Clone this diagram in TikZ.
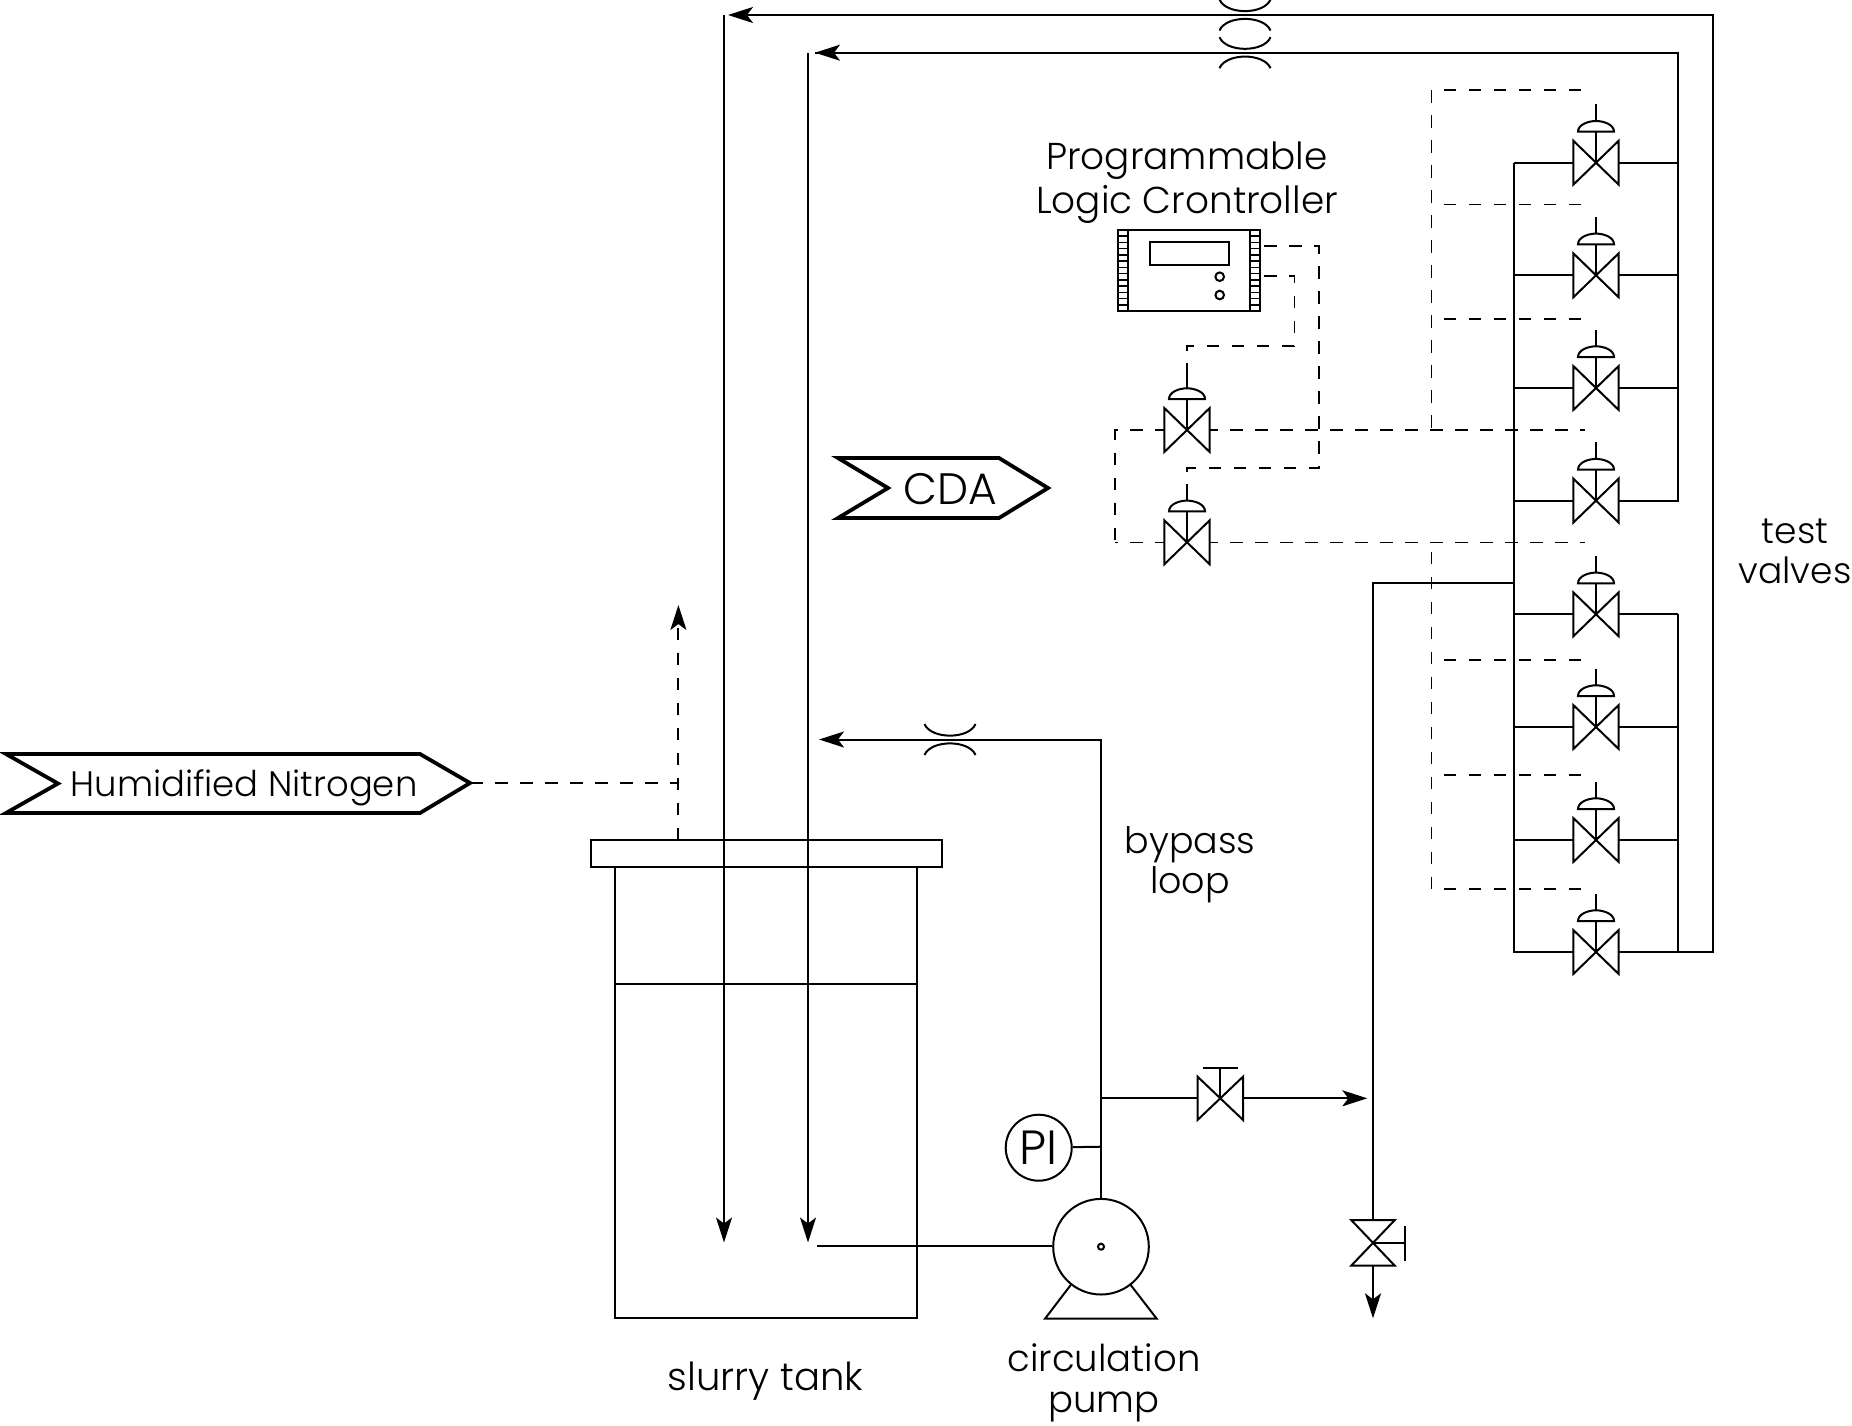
\documentclass[tikz,border=0pt]{standalone}
\usepackage{fontspec}
\setmainfont{Poppins Light}
\usetikzlibrary{arrows.meta}

\tikzset{
  pipe/.style={line width=1pt, line join=miter},
  flow/.style={pipe, -{Stealth[length=12.5pt,width=8pt,inset=3pt]}},
  sig/.style={line width=1pt, dash pattern=on 6.25pt off 6.25pt},
  sigthin/.style={line width=0.6pt, dash pattern=on 6.25pt off 6.25pt},
  tag/.style={line width=1.9pt, line join=miter, fill=white},
  lbl/.style 2 args={font=\fontsize{#1}{#2}\selectfont, align=center, inner sep=0pt},
}

% body, actuator on top
\newcommand{\ctrlvalve}[1]{
  \begin{scope}[shift={(#1)}]
    \draw[pipe] (0,0) -- (0,-58.4);
    \filldraw[pipe,fill=white] (-18,-31) .. controls (-18,-38) and (-8,-41.7) .. (0,-41.7)
        .. controls (8,-41.7) and (18,-38) .. (18,-31) -- cycle;
    \filldraw[pipe,fill=white] (-22.7,-22) -- (22.7,22) -- (22.7,-22) -- (-22.7,22) -- cycle;
    \draw[pipe] (0,0) -- (0,-31);
  \end{scope}
}
% restriction on a line
\newcommand{\orifice}[1]{
  \begin{scope}[shift={(#1)}]
    \draw[pipe] (-25.5,-15.5) .. controls (-19,0) and (19,0) .. (25.5,-15.5);
    \draw[pipe] (-25.5,15.5) .. controls (-19,0) and (19,0) .. (25.5,15.5);
  \end{scope}
}

\begin{document}
\begin{tikzpicture}[x=0.5pt,y=-0.5pt]
    \useasboundingbox (0,0) rectangle (1852,1425);

    % test valve positions
    \foreach \n/\y in {1/162.7,2/275.3,3/388,4/500.6,5/614.3,6/727,7/840,8/952}{
        \coordinate (v\n) at (1596,\y);
        \coordinate (bl\n) at (1514,\y);
        \coordinate (br\n) at (1678,\y);
    }
    \coordinate (ca) at (1187,430);
    \coordinate (cb) at (1187,542.3);
    \coordinate (ret1) at (724,15);
    \coordinate (ret2) at (808,52.7);
    \coordinate (ret1r) at (1713,15);
    \coordinate (ret2r) at (1678,52.7);
    \coordinate (ret1c) at (1713,952);
    \coordinate (tip1) at (728,15);
    \coordinate (tip2) at (815,52.7);
    \coordinate (end1) at (724,1242.5);
    \coordinate (end2) at (808,1242.5);

    % signal lines to the test valves
    \foreach \n/\y/\s in {1/90/sig,2/204.3/sigthin,3/319/sig,5/660/sig,6/775/sig,7/889/sig}{
        \coordinate (dl\n) at (1431.7,\y);
        \coordinate (dr\n) at (1581,\y);
        \draw[\s] (dr\n) -- (dl\n);
    }
    \coordinate (dl4) at (1431.7,430);
    \coordinate (dl8) at (1431.7,542.3);
    \draw[sigthin] (dl1) -- (dl4);
    \draw[sigthin] (dl7) -- (dl8);

    % signal lines from the controller
    \coordinate (sa1) at (1264,246);
    \coordinate (sa2) at (1319,246);
    \coordinate (sa3) at (1319,468);
    \coordinate (sa4) at (1187,468);
    \coordinate (sa5) at (1187,483.9);
    \coordinate (sb1) at (1264,276);
    \coordinate (sb2) at (1294.4,276);
    \coordinate (sb3) at (1294.4,345.7);
    \coordinate (sb4) at (1187,345.7);
    \coordinate (sb5) at (1187,371.6);
    \coordinate (ea) at (1585,430);
    \coordinate (eb) at (1585,542.3);
    \coordinate (ec) at (1115,430);
    \coordinate (ed) at (1115,542.3);
    \draw[sig] (sa1) -- (sa2) -- (sa3) -- (sa4) -- (sa5);
    \draw[sigthin] (sb1) -- (sb2) -- (sb3);
    \draw[sig] (sb3) -- (sb4) -- (sb5);
    \draw[sig,dash phase=3.75pt] (ea) -- (ec) -- (ed);
    \draw[sigthin,dash phase=3.75pt] (eb) -- (ed);

    % test valve manifold
    \draw[pipe] (bl1) -- (bl8) -- (br8);
    \draw[pipe] (tip2) -- (ret2r) -- (br4) -- (bl4);
    \draw[pipe] (br5) -- (br8);
    \foreach \n in {1,2,3,5,6,7}{
        \draw[pipe] (bl\n) -- (br\n);
    }
    \draw[flow] (br8) -- (ret1c) -- (ret1r) -- (tip1);
    \draw[flow] (ret1) -- (end1);
    \draw[flow] (ret2r) -- (tip2);
    \draw[flow] (ret2) -- (end2);

    \foreach \n in {1,...,8}{
        \ctrlvalve{v\n}
    }
    \ctrlvalve{ca}
    \ctrlvalve{cb}
    \coordinate (ora) at (1245,15);
    \coordinate (orb) at (1245,52.7);
    \coordinate (orc) at (950,739.5);
    \orifice{ora}
    \orifice{orb}
    \orifice{orc}

    % controller
    \node[pipe,draw,fill=white,minimum width=71pt,minimum height=40.5pt,inner sep=0pt] (plc) at (1189,270.5) {};
    \draw[pipe] (1128,230) -- (1128,311);
    \draw[pipe] (1250,230) -- (1250,311);
    \foreach \i in {1,...,12}{
        \draw[line width=0.8pt] (1118,230+6.23*\i) -- (1128,230+6.23*\i);
        \draw[line width=0.8pt] (1250,230+6.23*\i) -- (1260,230+6.23*\i);
    }
    \draw[pipe] (1150,241.7) rectangle (1229.3,265);
    \draw[pipe] (1219.7,276.7) circle (4.3);
    \draw[pipe] (1219.7,295) circle (4.3);
    \node[lbl={18.7}{22}] (plcl) at (1187,182.5) {Programmable\\Logic Crontroller};

    % tank
    \draw[pipe] (590.8,840) rectangle (941.7,866.7);
    \draw[pipe] (615.3,866.7) rectangle (916.6,1318);
    \draw[pipe] (615.3,984) -- (916.6,984);
    \node[lbl={19.3}{22}] (tankl) at (765.5,1381) {slurry tank};

    % pump
    \node[pipe,draw,circle,fill=white,minimum size=47.8pt,inner sep=0pt] (pump) at (1101,1246.7) {};
    \draw[pipe] (pump.center) circle (3);
    \draw[pipe] (1070.7,1285) -- (1045,1318.7) -- (1156.7,1318.7) -- (1130.7,1285);
    \coordinate (inl) at (817,1245.7);
    \draw[pipe] (inl) -- (pump.west |- inl);
    \node[lbl={18.5}{20.5}] (pumpl) at (1104,1383) {circulation\\pump};

    % pressure gauge
    \node[pipe,draw,circle,minimum size=33pt,inner sep=0pt,font=\fontsize{24}{28}\selectfont] (pi) at (1038.7,1147.7) {PI};
    \coordinate (tee1) at (1101,1146.7);
    \draw[pipe] (pi) -- (tee1);

    % bypass and drain
    \coordinate (byp1) at (1101,739.5);
    \coordinate (byp2) at (819,739.5);
    \draw[flow] (pump.north) -- (byp1) -- (byp2);
    \coordinate (tee2) at (1101,1098.3);
    \coordinate (mv) at (1220.3,1098.3);
    \coordinate (mvo) at (1367.3,1098.3);
    \draw[flow] (tee2) -- (mvo);
    \filldraw[pipe,fill=white] (1197.5,1076.6) -- (1243.1,1120) -- (1243.1,1076.6) -- (1197.5,1120) -- cycle;
    \draw[pipe] (mv) -- (1220.3,1068);
    \draw[pipe] (1203,1068) -- (1237.7,1068);
    \node[lbl={18.2}{20}] (bypl) at (1190,865) {bypass\\loop};

    \coordinate (dr0) at (1373,582.7);
    \coordinate (dr1) at (1514,582.7);
    \coordinate (dr2) at (1373,1318.3);
    \coordinate (dv) at (1373,1243);
    \draw[pipe] (dr1) -- (dr0) -- (dv);
    \draw[flow] (dv) -- (dr2);
    \filldraw[pipe,fill=white] (1351.2,1220) -- (1394.8,1220) -- (1351.2,1265.7) -- (1394.8,1265.7) -- cycle;
    \draw[pipe] (dv) -- (1405,1243);
    \draw[pipe] (1405,1226) -- (1405,1260.7);

    \node[lbl={18}{20}] (testl) at (1795,551) {test\\valves};

    % utility tags
    \coordinate (hntip) at (470,783);
    \coordinate (hnj) at (678.4,783);
    \coordinate (hnt) at (678.4,840);
    \coordinate (hnu) at (678.4,605);
    \draw[sig] (hntip) -- (hnj);
    \draw[sig,-{Stealth[length=12.5pt,width=8pt,inset=3pt]}] (hnt) -- (hnu);
    \filldraw[tag] (6,754) -- (420,754) -- (hntip) -- (420,813) -- (6,813) -- (58,783.5) -- cycle;
    \node[lbl={17.7}{22}] (hnl) at (244,788) {Humidified Nitrogen};
    \filldraw[tag] (838,458) -- (999,458) -- (1048,488) -- (999,518) -- (838,518) -- (888,488) -- cycle;
    \node[lbl={22}{26}] (cdal) at (950,489) {CDA};
\end{tikzpicture}
\end{document}
